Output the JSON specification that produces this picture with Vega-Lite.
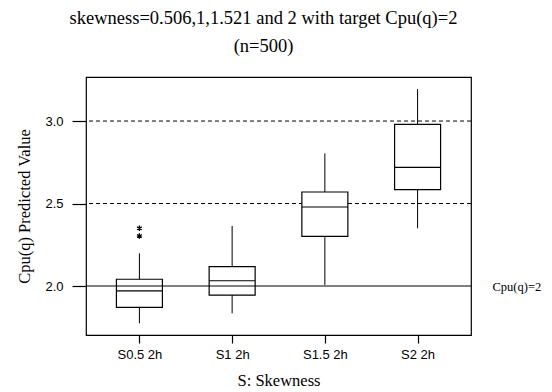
{
  "$schema": "https://vega.github.io/schema/vega-lite/v6.json",
  "width": 385,
  "height": 258,
  "autosize": "none",
  "padding": {"left": 86, "top": 77, "right": 81, "bottom": 57},
  "background": "white",
  "config": {
    "view": {"stroke": "black", "strokeWidth": 1.2},
    "axis": {"grid": false, "domain": false, "ticks": true, "tickColor": "black", "tickWidth": 1.2, "labelColor": "black", "titleColor": "black"}
  },
  "title": {
    "text": ["skewness=0.506,1,1.521 and 2 with target Cpu(q)=2", "(n=500)"],
    "font": "Liberation Serif, Times New Roman, serif",
    "fontSize": 18.5,
    "fontWeight": "normal",
    "lineHeight": 28,
    "offset": 22,
    "dx": -15,
    "color": "black"
  },
  "datasets": {
    "stats": [
      {"S": "S0.5 2h", "low": 1.774, "q1": 1.871, "median": 1.970, "q3": 2.041, "high": 2.198},
      {"S": "S1 2h", "low": 1.834, "q1": 1.945, "median": 2.032, "q3": 2.117, "high": 2.364},
      {"S": "S1.5 2h", "low": 2.006, "q1": 2.301, "median": 2.479, "q3": 2.570, "high": 2.804},
      {"S": "S2 2h", "low": 2.350, "q1": 2.584, "median": 2.719, "q3": 2.980, "high": 3.194}
    ],
    "outliers": [
      {"S": "S0.5 2h", "value": 2.35},
      {"S": "S0.5 2h", "value": 2.303}
    ],
    "guides": [
      {"y": 2.5},
      {"y": 3.0}
    ],
    "target": [
      {"y": 2.0}
    ]
  },
  "resolve": {"axis": {"y": "independent"}},
  "layer": [
    {
      "data": {"name": "guides"},
      "mark": {"type": "rule", "color": "black", "strokeWidth": 1, "strokeDash": [4, 3]},
      "encoding": {
        "y": {"field": "y", "type": "quantitative", "scale": {"domain": [1.703, 3.267], "nice": false, "zero": false}, "axis": null}
      }
    },
    {
      "data": {"name": "stats"},
      "mark": {"type": "rule", "color": "black", "strokeWidth": 1},
      "encoding": {
        "x": {"field": "S", "type": "nominal", "sort": null, "scale": {"type": "point", "padding": 0.576, "domain": ["S0.5 2h", "S1 2h", "S1.5 2h", "S2 2h"]},
          "axis": {"title": "S: Skewness", "titleFont": "Liberation Serif, Times New Roman, serif", "titleFontSize": 16.5, "titleFontWeight": "normal", "titlePadding": 11, "labelFont": "Liberation Sans", "labelFontSize": 13, "labelAngle": 0, "tickSize": 8, "labelPadding": 5}},
        "y": {"field": "low", "type": "quantitative", "scale": {"domain": [1.703, 3.267], "nice": false, "zero": false},
          "axis": {"values": [2, 2.5, 3], "format": ".1f", "title": "Cpu(q) Predicted Value", "titleFont": "Liberation Serif, Times New Roman, serif", "titleFontSize": 16.5, "titleFontWeight": "normal", "titlePadding": 12, "labelFont": "Liberation Sans", "labelFontSize": 13, "tickSize": 14, "labelPadding": 9}},
        "y2": {"field": "high"}
      }
    },
    {
      "data": {"name": "stats"},
      "mark": {"type": "bar", "size": 46, "fill": "white", "stroke": "black", "strokeWidth": 1.2, "opacity": 1},
      "encoding": {
        "x": {"field": "S", "type": "nominal", "sort": null, "scale": {"type": "point", "padding": 0.576, "domain": ["S0.5 2h", "S1 2h", "S1.5 2h", "S2 2h"]}},
        "y": {"field": "q1", "type": "quantitative", "axis": null},
        "y2": {"field": "q3"}
      }
    },
    {
      "data": {"name": "stats"},
      "mark": {"type": "tick", "size": 46, "thickness": 1.2, "color": "black", "opacity": 1},
      "encoding": {
        "x": {"field": "S", "type": "nominal", "sort": null, "scale": {"type": "point", "padding": 0.576, "domain": ["S0.5 2h", "S1 2h", "S1.5 2h", "S2 2h"]}},
        "y": {"field": "median", "type": "quantitative", "axis": null}
      }
    },
    {
      "data": {"name": "outliers"},
      "mark": {"type": "point", "shape": "M0,-1L0,1M-0.87,-0.5L0.87,0.5M-0.87,0.5L0.87,-0.5", "filled": false, "stroke": "black", "strokeWidth": 1.3, "size": 30, "opacity": 1},
      "encoding": {
        "x": {"field": "S", "type": "nominal", "sort": null, "scale": {"type": "point", "padding": 0.576, "domain": ["S0.5 2h", "S1 2h", "S1.5 2h", "S2 2h"]}},
        "y": {"field": "value", "type": "quantitative", "axis": null}
      }
    },
    {
      "data": {"name": "target"},
      "mark": {"type": "rule", "color": "black", "strokeWidth": 1.2},
      "encoding": {
        "y": {"field": "y", "type": "quantitative",
          "axis": {"orient": "right", "values": [2], "labelExpr": "'Cpu(q)=2'", "ticks": false, "domain": false, "title": null, "labelFont": "Liberation Serif", "labelFontSize": 12.5, "labelPadding": 21}}
      }
    }
  ]
}
